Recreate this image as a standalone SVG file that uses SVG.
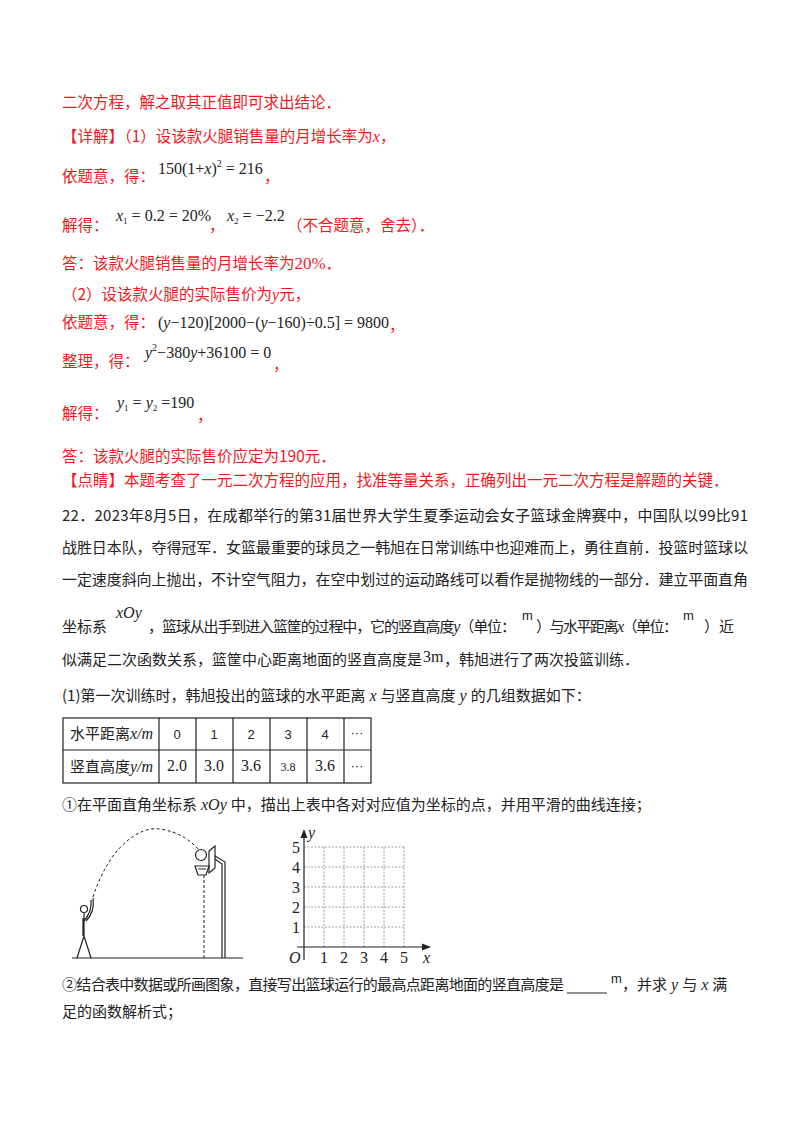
<svg xmlns="http://www.w3.org/2000/svg" width="800" height="1132" viewBox="0 0 800 1132">
<style>
.r{fill:#f0191e;font-family:"Noto Sans CJK SC","Noto Sans",sans-serif;font-size:15.5px}
.k{fill:#222;font-family:"Noto Sans CJK SC","Noto Sans",sans-serif;font-size:15px}
.m{fill:#222;font-family:"Liberation Serif",serif;font-size:16px}
.i{font-style:italic}
.s{fill:#222;font-family:"Liberation Sans",sans-serif;font-size:13px}
.g{stroke:#888;stroke-width:0.8;stroke-dasharray:2 1.5;fill:none}
.l{stroke:#222;stroke-width:1.2;fill:none}
</style>
<rect width="800" height="1132" fill="#fff"/>
<text class="r" x="62" y="108">二次方程，解之取其正值即可求出结论．</text>
<text class="r" x="62" y="142">【详解】（1）设该款火腿销售量的月增长率为<tspan font-family="Liberation Serif" font-style="italic" font-size="16">x</tspan>，</text>
<text class="r" x="62" y="182">依题意，得：</text>
<text class="m" x="158" y="174">150(1+<tspan class="i">x</tspan>)<tspan font-size="10" dy="-7">2</tspan><tspan dy="7"> = 216</tspan></text>
<text class="r" x="264" y="182">，</text>
<text class="r" x="62" y="231">解得：</text>
<text class="m" x="116" y="221"><tspan class="i">x</tspan><tspan font-size="9" dy="3">1</tspan><tspan dy="-3"> = 0.2 = 20%</tspan></text>
<text class="r" x="209" y="231">，</text>
<text class="m" x="227" y="221"><tspan class="i">x</tspan><tspan font-size="9" dy="3">2</tspan><tspan dy="-3"> = −2.2</tspan></text>
<text class="r" x="287" y="231">（不合题意，舍去）．</text>
<text class="r" x="62" y="269">答：该款火腿销售量的月增长率为<tspan font-family="Liberation Serif" font-size="17">20%</tspan>．</text>
<text class="r" x="62" y="300">（2）设该款火腿的实际售价为<tspan font-family="Liberation Serif" font-style="italic" font-size="16">y</tspan>元，</text>
<text class="r" x="62" y="328">依题意，得：</text>
<text class="m" x="158" y="328">(<tspan class="i">y</tspan>−120)[2000−(<tspan class="i">y</tspan>−160)÷0.5] = 9800</text>
<text class="r" x="389" y="331">，</text>
<text class="r" x="62" y="367">整理，得：</text>
<text class="m" x="145" y="358"><tspan class="i">y</tspan><tspan font-size="10" dy="-7">2</tspan><tspan dy="7">−380</tspan><tspan class="i">y</tspan>+36100 = 0</text>
<text class="r" x="273" y="370">，</text>
<text class="r" x="62" y="419">解得：</text>
<text class="m" x="117" y="408"><tspan class="i">y</tspan><tspan font-size="9" dy="3">1</tspan><tspan dy="-3"> = </tspan><tspan class="i">y</tspan><tspan font-size="9" dy="3">2</tspan><tspan dy="-3"> =190</tspan></text>
<text class="r" x="197" y="421">，</text>
<text class="r" x="62" y="462">答：该款火腿的实际售价应定为190元．</text>
<text class="r" x="62" y="486">【点睛】本题考查了一元二次方程的应用，找准等量关系，正确列出一元二次方程是解题的关键．</text>
<text class="k" x="62" y="521" textLength="686">22．2023年8月5日，在成都举行的第31届世界大学生夏季运动会女子篮球金牌赛中，中国队以99比91</text>
<text class="k" x="62" y="553" textLength="686">战胜日本队，夺得冠军．女篮最重要的球员之一韩旭在日常训练中也迎难而上，勇往直前．投篮时篮球以</text>
<text class="k" x="62" y="585" textLength="686">一定速度斜向上抛出，不计空气阻力，在空中划过的运动路线可以看作是抛物线的一部分．建立平面直角</text>
<text class="k" x="62" y="632">坐标系</text>
<text class="m i" x="116" y="618" font-size="17">xOy</text>
<text class="k" x="148" y="632" textLength="368">，篮球从出手到进入篮筐的过程中，它的竖直高度<tspan font-family="Liberation Serif" font-style="italic" font-size="16">y</tspan>（单位：</text>
<text class="s" x="522" y="620" font-size="11">m</text>
<text class="k" x="536" y="632" textLength="142">）与水平距离<tspan font-family="Liberation Serif" font-style="italic" font-size="16">x</tspan>（单位：</text>
<text class="s" x="683" y="620" font-size="11">m</text>
<text class="k" x="704" y="632">）近</text>
<text class="k" x="62" y="665">似满足二次函数关系，篮筐中心距离地面的竖直高度是</text>
<text class="m" x="423" y="662" font-size="17">3m</text>
<text class="k" x="444" y="665">，韩旭进行了两次投篮训练．</text>
<text class="k" x="62" y="701">(1)第一次训练时，韩旭投出的篮球的水平距离<tspan font-family="Liberation Serif" font-style="italic" font-size="16"> x </tspan>与竖直高度<tspan font-family="Liberation Serif" font-style="italic" font-size="16"> y </tspan>的几组数据如下：</text>
<g id="table">
<rect x="63" y="718" width="308" height="65" class="l"/>
<path class="l" d="M63,750H371M159,718V783M196,718V783M233,718V783M270,718V783M307,718V783M344,718V783"/>
<text class="k" x="70" y="739">水平距离<tspan font-family="Liberation Serif" font-style="italic" font-size="16">x/m</tspan></text>
<text class="k" x="70" y="772">竖直高度<tspan font-family="Liberation Serif" font-style="italic" font-size="16">y/m</tspan></text>
<g class="s" text-anchor="middle">
<text x="177" y="739">0</text><text x="214" y="739">1</text><text x="251" y="739">2</text><text x="288" y="739">3</text><text x="325" y="739">4</text><text x="357" y="737">···</text>
<text x="357" y="770">···</text>
</g>
<g class="m" text-anchor="middle" font-size="14">
<text x="177" y="771">2.0</text><text x="214" y="771">3.0</text><text x="251" y="771">3.6</text><text x="288" y="771" font-size="12">3.8</text><text x="325" y="771">3.6</text>
</g>
</g>
<text class="k" x="62" y="810">①在平面直角坐标系<tspan font-family="Liberation Serif" font-style="italic" font-size="16"> xOy </tspan>中，描出上表中各对对应值为坐标的点，并用平滑的曲线连接；</text>
<g id="scene">
<path class="l" d="M72,958H243"/>
<circle cx="84" cy="909" r="3.5" class="l"/>
<path class="l" d="M84,913V936M83,918V936M84,936L77,958M84,936L91,958"/>
<path class="l" d="M84,921Q92,912 91,900M86,921Q95,912 93,898"/>
<path d="M93,897C110,845 140,826 160,829C180,832 192,842 199,850" fill="none" stroke="#222" stroke-dasharray="3 2.5"/>
<circle cx="201" cy="855" r="5.5" class="l"/>
<path class="l" d="M209,851L215,846L215,868L209,873Z"/>
<path class="l" d="M195,866H209L206,875H198Z M198,869H206"/>
<path class="l" d="M215,856L225,862V958M215,859L222,864V958"/>
<path d="M204,875V958" stroke="#222" stroke-dasharray="3 2"/>
</g>
<g id="grid">
<path class="g" d="M324,847V947M344,847V947M364,847V947M384,847V947M404,847V947M304,847H404M304,867H404M304,887H404M304,907H404M304,927H404"/>
<path class="l" d="M304,960V834M297,947H426"/>
<path d="M304,829L300.5,838H307.5Z M431,947L422,943.5V950.5Z" fill="#222"/>
<g class="m" font-size="17">
<text x="308" y="838" class="i">y</text>
<text x="289" y="963" class="i">O</text>
<text x="423" y="963" class="i">x</text>
<g text-anchor="middle"><text x="324" y="963">1</text><text x="344" y="963">2</text><text x="364" y="963">3</text><text x="384" y="963">4</text><text x="404" y="963">5</text></g>
<g text-anchor="end"><text x="300" y="853">5</text><text x="300" y="873">4</text><text x="300" y="893">3</text><text x="300" y="913">2</text><text x="300" y="933">1</text></g>
</g>
</g>
<text class="k" x="62" y="990" textLength="502">②结合表中数据或所画图象，直接写出篮球运行的最高点距离地面的竖直高度是</text>
<path d="M567,993H607" stroke="#222" stroke-width="1.2"/>
<text class="s" x="611" y="983" font-size="11">m</text>
<text class="k" x="622" y="990">，并求<tspan font-family="Liberation Serif" font-style="italic" font-size="16"> y </tspan>与<tspan font-family="Liberation Serif" font-style="italic" font-size="16"> x </tspan>满</text>
<text class="k" x="62" y="1017">足的函数解析式；</text>
</svg>
